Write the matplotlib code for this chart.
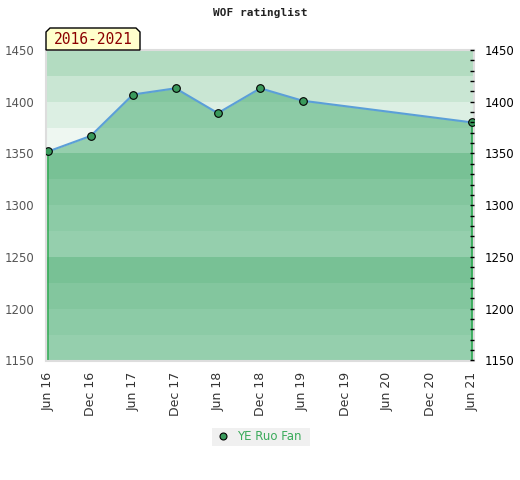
import matplotlib
matplotlib.use('Agg')
import matplotlib.pyplot as plt
from matplotlib.patches import Polygon, Rectangle
from matplotlib.lines import Line2D
import pandas as pd

# 数据
dates = ['2016-06-01', '2016-12-01', '2017-06-01', '2017-12-01',
         '2018-06-01', '2018-12-01', '2019-06-01', '2021-06-01']
ratings = [1352, 1367, 1407, 1413, 1389, 1413, 1401, 1380]
tick_dates = ['2016-06-01', '2016-12-01', '2017-06-01', '2017-12-01',
              '2018-06-01', '2018-12-01', '2019-06-01', '2019-12-01',
              '2020-06-01', '2020-12-01', '2021-06-01']
tick_labels = ['Jun 16', 'Dec 16', 'Jun 17', 'Dec 17', 'Jun 18', 'Dec 18',
               'Jun 19', 'Dec 19', 'Jun 20', 'Dec 20', 'Jun 21']
player = 'YE Ruo Fan'
title = 'WOF ratinglist'
period = '2016-2021'

x = pd.to_datetime(dates)
ticks = pd.to_datetime(tick_dates)

fig = plt.figure(figsize=(5.2, 4.8), dpi=100)
ax = fig.add_axes([45.5 / 520, 1 - 360.5 / 480, 428 / 520, 310.5 / 480])

ymin, ymax = 1150, 1450
# 背景色带，每100分一组，从上往下变浅
band_colors = ['#b3dcc1', '#c9e6d3', '#dcefe3', '#eef7f1']
lo = ymin
while lo < ymax:
    top = lo + 25
    k = int(((ymax - top) % 100) / 25)
    ax.axhspan(lo, top, color=band_colors[k], lw=0, zorder=0)
    lo = top

ax.fill_between(x, ratings, ymin, color='#3ea86b', alpha=0.5, lw=0, zorder=1)
ax.vlines([x[0], x[-1]], ymin, [ratings[0], ratings[-1]], color='#2ea852', lw=1.2, zorder=2)
ax.plot(x, ratings, color='#5b9fd8', lw=1.5, zorder=3)
ax.plot(x, ratings, 'o', ms=5.5, mfc='#3a9a5c', mec='black', mew=0.8, zorder=4)

ax.set_ylim(ymin, ymax)
ax.set_xlim(x[0] - pd.Timedelta(days=12), x[-1] + pd.Timedelta(days=5))
ax.set_xticks(ticks)
ax.set_xticklabels(tick_labels, rotation=90, fontsize=9, color='#333333')
ax.set_yticks(range(1150, 1451, 50))
ax.tick_params(axis='y', length=0, labelsize=8.5, labelcolor='#555555', pad=8)
ax.tick_params(axis='x', length=0, pad=8)
for s in ax.spines.values():
    s.set_color('#dddddd')
    s.set_linewidth(1.5)

ax2 = ax.twinx()
ax2.set_ylim(ymin, ymax)
ax2.set_yticks(range(1150, 1451, 50))
ax2.set_yticks(range(1150, 1451, 10), minor=True)
ax2.tick_params(axis='y', which='both', direction='in', length=3, width=1,
                color='black', labelsize=8.5, labelcolor='black', pad=8)
for s in ax2.spines.values():
    s.set_visible(False)

fig.text(0.5, 1 - 13 / 480, title, ha='center', va='center',
         family='DejaVu Sans Mono', fontsize=8, weight='bold', color='#222222')

# 年份标签框
x0, x1 = 46 / 520, 140 / 520
y0, y1 = 1 - 50 / 480, 1 - 28 / 480
cx, cy = 4 / 520, 4 / 480
box = Polygon([(x0, y0), (x0, y1 - cy), (x0 + cx, y1), (x1 - cx, y1),
               (x1, y1 - cy), (x1, y0)], closed=True, transform=fig.transFigure,
              facecolor='#ffffcc', edgecolor='black', lw=1)
fig.patches.append(box)
fig.text((x0 + x1) / 2, (y0 + y1) / 2, period, ha='center', va='center',
         family='DejaVu Sans Mono', fontsize=10.5, color='#8b0000')

# 图例
fig.patches.append(Rectangle((212 / 520, 1 - 446 / 480), 98 / 520, 18 / 480,
                             transform=fig.transFigure, facecolor='#f0f0f0',
                             edgecolor='none'))
fig.lines.append(Line2D([223 / 520], [1 - 436 / 480], marker='o', ms=5,
                        mfc='#3a9a5c', mec='black', mew=0.8,
                        transform=fig.transFigure))
fig.text(237 / 520, 1 - 436 / 480, player, ha='left', va='center',
         fontsize=8.5, color='#3aaa5a')

fig.savefig('out.png', dpi=100)
